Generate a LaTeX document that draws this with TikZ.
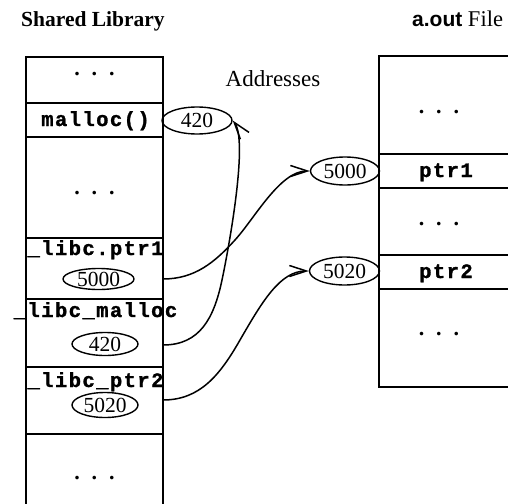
\documentclass[tikz,border=0pt]{standalone}
\usepackage{fontspec}
\setmainfont{Liberation Serif}
\newfontfamily\courfont[LetterSpace=7,BoldFeatures={FakeBold=1.3}]{Liberation Mono}
\newfontfamily\helvfont{Liberation Sans}
\usetikzlibrary{shapes.geometric,arrows.meta}
\begin{document}
\begin{tikzpicture}[x=1pt,y=-1pt,
  cell/.style={rectangle, draw, line width=1.9pt, inner sep=0pt, outer sep=0pt},
  code/.style={font=\courfont\bfseries\fontsize{20.5}{22}\selectfont, inner sep=0pt, anchor=base},
  dotsrow/.style={font=\bfseries\fontsize{22}{24}\selectfont, inner sep=0pt, anchor=base},
  val/.style={ellipse, draw, line width=1.4pt, inner sep=0pt, font=\fontsize{21.5}{23}\selectfont},
  title/.style={inner sep=0pt, anchor=base},
  link/.style={line width=1.5pt, -{Straight Barb[length=17pt,width=11pt,line width=1.5pt]}},
]
\useasboundingbox (0,0) rectangle (508,503);

% titles
\node[title, anchor=base west, font=\bfseries\fontsize{21.5}{24}\selectfont] (tsl) at (21,27) {Shared Library};
\node[title, font=\fontsize{23}{26}\selectfont] (tad) at (273,86) {Addresses};
\node[title, anchor=base west, font=\fontsize{22.5}{25}\selectfont] (taf) at (412,27) {{\helvfont\bfseries\fontsize{21}{24}\selectfont a.out} File};

% left box (shared library)
\node[cell, minimum width=137pt, minimum height=46pt]  (L1) at (94.5,80) {};
\node[cell, minimum width=137pt, minimum height=34pt]  (L2) at (94.5,120) {};
\node[cell, minimum width=137pt, minimum height=101pt] (L3) at (94.5,187.5) {};
\node[cell, minimum width=137pt, minimum height=61pt]  (L4) at (94.5,268.5) {};
\node[cell, minimum width=137pt, minimum height=68pt]  (L5) at (94.5,333) {};
\node[cell, minimum width=137pt, minimum height=67pt]  (L6) at (94.5,400.5) {};
\node[cell, minimum width=137pt, minimum height=86pt]  (L7) at (94.5,477) {};

\node[dotsrow] (d1) at (94.5,75) {.\kern12pt.\kern12pt.};
\node[code] (tmalloc) at (95.5,126) {malloc()};
\node[dotsrow] (d2) at (94.5,194) {.\kern12pt.\kern12pt.};
\node[code] (tptr1) at (95.5,255) {\_libc.ptr1};
\node[val, minimum width=71pt, minimum height=21pt] (l5000) at (98.5,279) {5000};
\node[code] (tlmalloc) at (95.5,317) {\_libc\_malloc};
\node[val, minimum width=66pt, minimum height=23pt] (l420) at (105,344) {420};
\node[code] (tptr2) at (95.5,387) {\_libc\_ptr2};
\node[val, minimum width=66pt, minimum height=25pt] (l5020) at (105,405) {5020};
\node[dotsrow] (d3) at (94.5,479) {.\kern12pt.\kern12pt.};

% right box (a.out file)
\node[cell, minimum width=141pt, minimum height=98pt] (R1) at (449.5,105) {};
\node[cell, minimum width=141pt, minimum height=34pt] (R2) at (449.5,171) {};
\node[cell, minimum width=141pt, minimum height=67pt] (R3) at (449.5,221.5) {};
\node[cell, minimum width=141pt, minimum height=34pt] (R4) at (449.5,272) {};
\node[cell, minimum width=141pt, minimum height=98pt] (R5) at (449.5,338) {};

\node[dotsrow] (d4) at (439,113) {.\kern12pt.\kern12pt.};
\node[code] (rptr1) at (446,177) {ptr1};
\node[dotsrow] (d5) at (439,225) {.\kern12pt.\kern12pt.};
\node[code] (rptr2) at (446,278) {ptr2};
\node[dotsrow] (d6) at (439,335) {.\kern12pt.\kern12pt.};

% address ellipses
\node[val, minimum width=70pt, minimum height=27pt] (a420) at (197,120.5) {420};
\node[val, minimum width=69pt, minimum height=28pt] (a5000) at (345,171) {5000};
\node[val, minimum width=70pt, minimum height=28pt] (a5020) at (344.5,271) {5020};

% start points on the library box edge
\coordinate (s1) at (163,279);
\coordinate (s2) at (163,345);
\coordinate (s3) at (163,400);

% connectors
\draw[link] (s1) .. controls (195,279) and (215,262) .. (235,240)
  .. controls (255,218) and (280,171) .. (a5000.west);
\draw[link] (s2) .. controls (200,345) and (214,318) .. (222,280)
  .. controls (230,242) and (248,140) .. (a420.east);
\draw[link] (s3) .. controls (200,400) and (220,375) .. (240,340)
  .. controls (262,302) and (280,271) .. (a5020.west);
\end{tikzpicture}
\end{document}
